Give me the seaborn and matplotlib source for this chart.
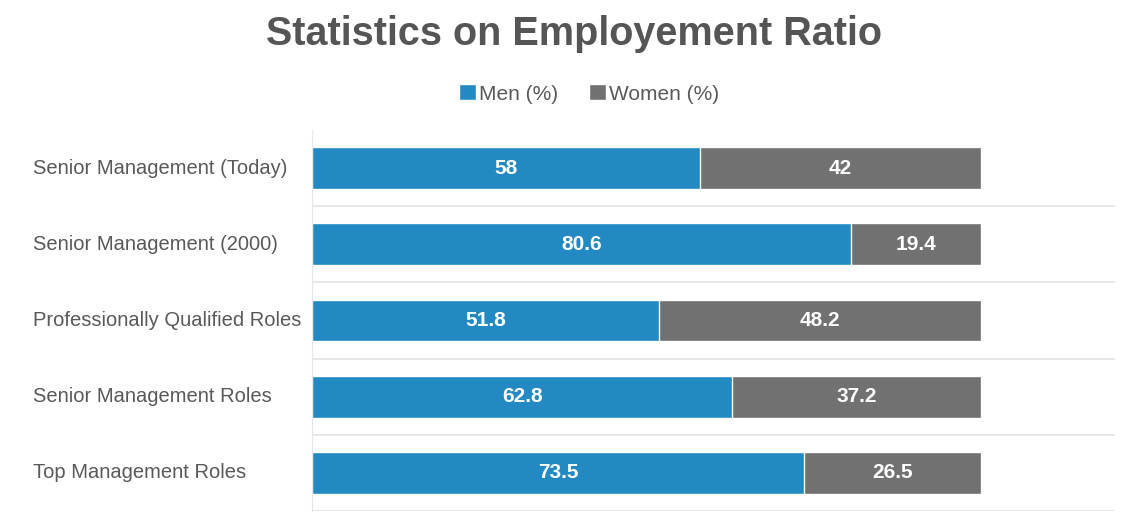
import numpy as np
import pandas as pd
import seaborn as sns
import matplotlib.pyplot as plt
from matplotlib.patches import Patch
from matplotlib.transforms import blended_transform_factory

# =============================================================================
# Data
# =============================================================================

categories = [
    "Senior Management (Today)",
    "Senior Management (2000)",
    "Professionally Qualified Roles",
    "Senior Management Roles",
    "Top Management Roles",
]
men_pct = [58, 80.6, 51.8, 62.8, 73.5]
women_pct = [42, 19.4, 48.2, 37.2, 26.5]

df = pd.DataFrame({"Role": categories, "Men": men_pct, "Women": women_pct})
df["Total"] = df["Men"] + df["Women"]

blue = "#2389C2"
grey = "#717171"
text_grey = "#595959"

# =============================================================================
# Plot
# =============================================================================

sns.set_style("white")
plt.rcParams["font.family"] = ["Liberation Sans", "DejaVu Sans"]

fig = plt.figure(figsize=(11.33, 5.27), dpi=100)
ax = fig.add_axes([312 / 1133, 1 - 511 / 527, (1115 - 312) / 1133, (511 - 130) / 527])

# stacked: total (grey) behind, men (blue) in front
sns.barplot(data=df, y="Role", x="Total", order=categories, color=grey,
            width=0.55, orient="h", saturation=1, ax=ax)
sns.barplot(data=df, y="Role", x="Men", order=categories, color=blue,
            width=0.55, orient="h", saturation=1, ax=ax)

ax.set_xlim(0, 120)
ax.set_ylim(len(categories) - 0.5, -0.5)

# value labels
for i, row in df.iterrows():
    ax.text(row["Men"] / 2, i, f"{row['Men']:g}", ha="center", va="center",
            color="white", fontsize=15, fontweight="bold")
    ax.text(row["Men"] + row["Women"] / 2, i, f"{row['Women']:g}", ha="center",
            va="center", color="white", fontsize=15, fontweight="bold")

# separator lines between categories
for b in np.arange(0.5, len(categories), 1.0):
    ax.axhline(b, color="#e3e3e3", linewidth=1.2, zorder=0)

for s in ["top", "right", "bottom"]:
    ax.spines[s].set_visible(False)
ax.spines["left"].set_color("#e6e6e6")
ax.set_xticks([])
ax.set_xlabel("")
ax.set_ylabel("")

# left-aligned category labels
ax.set_yticks([])
trans = blended_transform_factory(fig.transFigure, ax.transData)
for i, cat in enumerate(categories):
    ax.text(33 / 1133, i, cat, transform=trans, ha="left", va="center",
            fontsize=14.5, color=text_grey, clip_on=False)

fig.text(574 / 1133, 1 - 34 / 527, "Statistics on Employement Ratio", ha="center",
         va="center", fontsize=28.5, fontweight="bold", color="#555555")

handles = [Patch(facecolor=blue, label="Men (%)"),
           Patch(facecolor=grey, label="Women (%)")]
fig.legend(handles=handles, loc="center", bbox_to_anchor=(589 / 1133, 1 - 94 / 527),
           ncol=2, frameon=False, fontsize=15, labelcolor=text_grey,
           handlelength=0.8, handleheight=0.8, handletextpad=0.15, columnspacing=1.5)

fig.savefig("out.png", dpi=100)
